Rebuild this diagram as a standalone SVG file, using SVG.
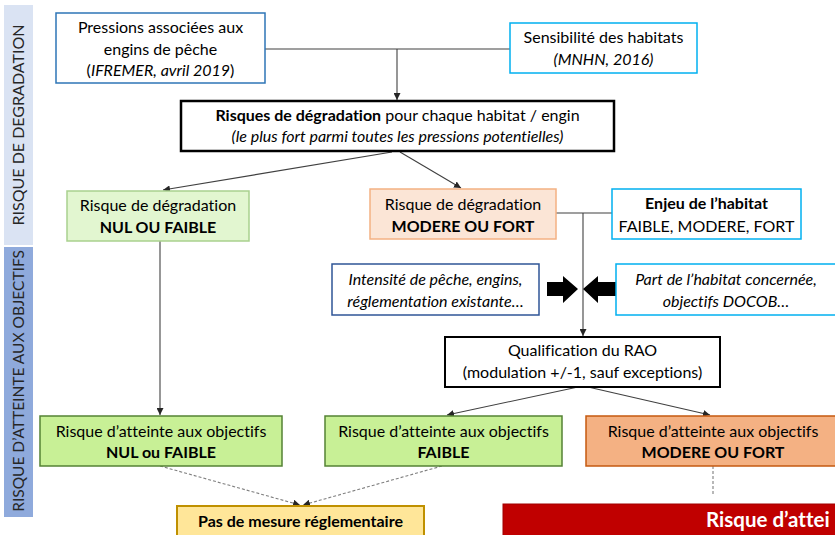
<svg xmlns="http://www.w3.org/2000/svg" width="835" height="535" viewBox="0 0 835 535">
<defs>
<style>
text{font-family:Lato,"Open Sans","Liberation Sans",sans-serif;font-size:16px;fill:#000;text-anchor:middle;font-variant-ligatures:none}
.b{font-weight:bold}
.i{font-style:italic}
.side{font-size:16px;fill:#262626}
.ln{fill:none;stroke:#7f7f7f;stroke-width:1.3}
.ar{fill:none;stroke:#404040;stroke-width:1.1}
.ds{fill:none;stroke:#7f7f7f;stroke-width:1.1;stroke-dasharray:3 2}
</style>
<marker id="ah" viewBox="0 0 10 10" refX="10" refY="5" markerWidth="7" markerHeight="7" orient="auto" markerUnits="userSpaceOnUse">
<path d="M0,0 L10,5 L0,10 z" fill="#262626"/>
</marker>
</defs>
<rect width="835" height="535" fill="#fff"/>

<g id="side-degradation">
<rect x="4" y="5" width="29" height="240" fill="#dae3f3"/>
<text class="side" transform="translate(24,125) rotate(-90)">RISQUE DE DEGRADATION</text>
</g>
<g id="side-atteinte">
<rect x="4" y="247" width="29" height="270" fill="#8faadc"/>
<text class="side" transform="translate(24,381) rotate(-90)" style="font-size:15.5px">RISQUE D’ATTEINTE AUX OBJECTIFS</text>
</g>

<g id="connectors">
<path class="ln" d="M265,49 H510"/>
<path class="ar" d="M397,49 V100" marker-end="url(#ah)"/>
<path class="ar" d="M392,152 L163,190" marker-end="url(#ah)"/>
<path class="ar" d="M400,152 L461,188" marker-end="url(#ah)"/>
<path class="ln" d="M556,213 H612"/>
<path class="ar" d="M583,213 V336" marker-end="url(#ah)"/>
<path class="ar" d="M160,241 V415" marker-end="url(#ah)"/>
<path class="ar" d="M578,387 L447,415" marker-end="url(#ah)"/>
<path class="ar" d="M588,387 L710,415" marker-end="url(#ah)"/>
<path class="ds" d="M160,466 L300,505" marker-end="url(#ah)"/>
<path class="ds" d="M442,466 L303,505" marker-end="url(#ah)"/>
<path class="ds" d="M713,466 V496"/>
<path d="M547,282 H563 V276 L578,289 L563,303 V296 H547 Z" fill="#000"/>
<path d="M616,282 H598 V276 L583,289 L598,303 V296 H616 Z" fill="#000"/>
</g>

<g id="pressions">
<rect x="56" y="13" width="209" height="70" fill="#fff" stroke="#2e75b6" stroke-width="1.5"/>
<text x="160.5" y="33">Pressions associées aux</text>
<text x="160.5" y="55">engins de pêche</text>
<text x="160.5" y="76">(<tspan class="i">IFREMER, avril 2019</tspan>)</text>
</g>

<g id="sensibilite">
<rect x="510" y="23" width="187" height="50" fill="#fff" stroke="#00b0f0" stroke-width="1.5"/>
<text x="603.5" y="43">Sensibilité des habitats</text>
<text x="603.5" y="65" class="i">(MNHN, 2016)</text>
</g>

<g id="risques-degradation">
<rect x="181" y="101" width="433" height="50" fill="#fff" stroke="#000" stroke-width="2.5"/>
<text x="397.5" y="121"><tspan class="b">Risques de dégradation</tspan> pour chaque habitat / engin</text>
<text x="397.5" y="142" class="i">(le plus fort parmi toutes les pressions potentielles)</text>
</g>

<g id="degradation-nul">
<rect x="67" y="191" width="182" height="50" fill="#e2f6d0" stroke="#a9d18e" stroke-width="1.5"/>
<text x="158" y="211">Risque de dégradation</text>
<text x="158" y="233" class="b">NUL OU FAIBLE</text>
</g>

<g id="degradation-modere">
<rect x="370" y="189" width="186" height="50" fill="#fbe5d6" stroke="#f4b183" stroke-width="1.5"/>
<text x="463" y="210">Risque de dégradation</text>
<text x="463" y="232" class="b">MODERE OU FORT</text>
</g>

<g id="enjeu">
<rect x="612" y="189" width="189" height="50" fill="#fff" stroke="#00b0f0" stroke-width="1.5"/>
<text x="706.5" y="209" class="b">Enjeu de l’habitat</text>
<text x="706.5" y="232">FAIBLE, MODERE, FORT</text>
</g>

<g id="intensite">
<rect x="332" y="264" width="207" height="51" fill="#fff" stroke="#2f5597" stroke-width="1.5"/>
<text x="435.5" y="285" class="i">Intensité de pêche, engins,</text>
<text x="435.5" y="307" class="i">réglementation existante…</text>
</g>

<g id="part-habitat">
<rect x="616" y="264" width="222" height="51" fill="#fff" stroke="#00b0f0" stroke-width="1.5"/>
<text x="726" y="285" class="i">Part de l’habitat concernée,</text>
<text x="726" y="307" class="i">objectifs DOCOB…</text>
</g>

<g id="qualification">
<rect x="445" y="337" width="275" height="50" fill="#fff" stroke="#000" stroke-width="2"/>
<text x="582.5" y="356">Qualification du RAO</text>
<text x="582.5" y="378">(modulation +/-1, sauf exceptions)</text>
</g>

<g id="rao-nul">
<rect x="40" y="416" width="242" height="50" fill="#c8f096" stroke="#548235" stroke-width="1.5"/>
<text x="161" y="437">Risque d’atteinte aux objectifs</text>
<text x="161" y="458" class="b">NUL ou FAIBLE</text>
</g>

<g id="rao-faible">
<rect x="325" y="416" width="237" height="50" fill="#c8f096" stroke="#548235" stroke-width="1.5"/>
<text x="443.5" y="437">Risque d’atteinte aux objectifs</text>
<text x="443.5" y="458" class="b">FAIBLE</text>
</g>

<g id="rao-modere">
<rect x="586" y="416" width="252" height="50" fill="#f4b183" stroke="#c55a11" stroke-width="1.5"/>
<text x="713" y="437">Risque d’atteinte aux objectifs</text>
<text x="713" y="458" class="b">MODERE OU FORT</text>
</g>

<g id="pas-de-mesure">
<rect x="177" y="506" width="247" height="35" fill="#ffe699" stroke="#bf9000" stroke-width="2"/>
<text x="300.5" y="527" class="b">Pas de mesure réglementaire</text>
</g>

<g id="risque-rouge">
<rect x="503" y="504" width="340" height="40" fill="#c00000" stroke="#a00000" stroke-width="1"/>
<text x="706" y="527" class="b" style="fill:#fff;font-size:20.5px;text-anchor:start">Risque d’attei</text>
</g>
</svg>
